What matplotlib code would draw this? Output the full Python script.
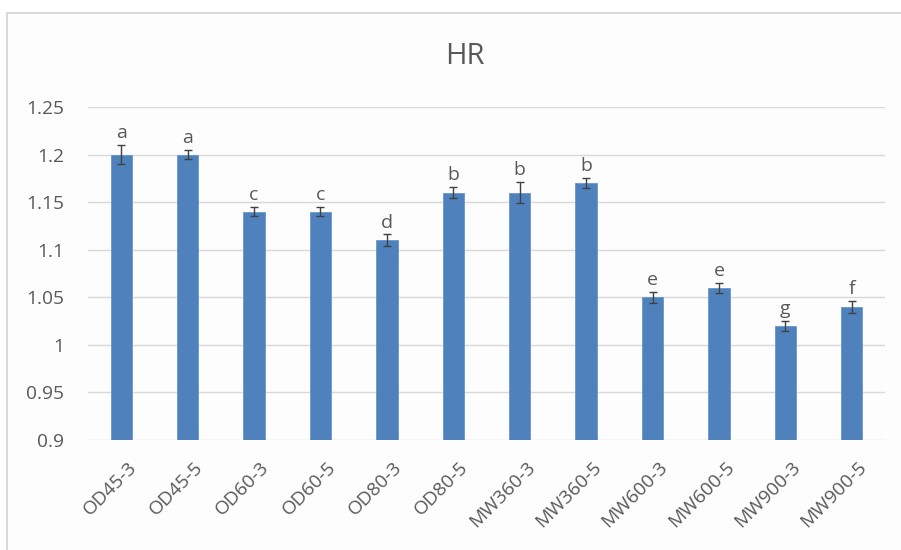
import numpy as np
import matplotlib
matplotlib.use("Agg")
import matplotlib.pyplot as plt
import matplotlib.transforms as mtransforms
from matplotlib.patches import Rectangle

## DATA ----------------
groups = ['OD45-3', 'OD45-5', 'OD60-3', 'OD60-5', 'OD80-3', 'OD80-5',
          'MW360-3', 'MW360-5', 'MW600-3', 'MW600-5', 'MW900-3', 'MW900-5']
hr_mean = [1.20, 1.20, 1.14, 1.14, 1.11, 1.16, 1.16, 1.17, 1.05, 1.06, 1.02, 1.04]
hr_err = [0.010, 0.005, 0.005, 0.005, 0.006, 0.006, 0.011, 0.005, 0.006, 0.005, 0.005, 0.006]
letters = ['a', 'a', 'c', 'c', 'd', 'b', 'b', 'b', 'e', 'e', 'g', 'f']

## STYLE ----------------
plt.rcParams['font.family'] = ['Open Sans', 'DejaVu Sans']
text_col = '#595959'

fig = plt.figure(figsize=(9.01, 5.5), dpi=100)
fig.patch.set_facecolor('white')

# chart frame (Excel-like border)
frame = Rectangle((7 / 901, -0.05), 1.0, 1 - 13 / 550 + 0.05,
                  transform=fig.transFigure, facecolor='#fdfdfd',
                  edgecolor='#d9d9d9', lw=1.5, zorder=-5)
fig.patches.append(frame)

ax = fig.add_axes([88 / 901, 110 / 550, (885 - 88) / 901, (443 - 110) / 550])
ax.set_zorder(2)
ax.set_facecolor('none')

x = np.arange(len(groups))
ax.bar(x, hr_mean, width=0.32, color='#4f81bd', edgecolor='#6a96cc', lw=0.6, zorder=2)
ax.errorbar(x, hr_mean, yerr=hr_err, fmt='none', ecolor='#404040',
            elinewidth=1.0, capsize=3, capthick=1.0, zorder=3)

for xi, m, e, lab in zip(x, hr_mean, hr_err, letters):
    ax.annotate(lab, (xi, m + e), xytext=(0, 5), textcoords='offset points',
                ha='center', va='baseline', fontsize=14, color=text_col)

ax.set_ylim(0.9, 1.25)
ax.set_xlim(-0.5, len(groups) - 0.5)
ax.set_yticks(np.arange(0.9, 1.2501, 0.05))
ax.set_yticklabels(['0.9', '0.95', '1', '1.05', '1.1', '1.15', '1.2', '1.25'])
ax.yaxis.grid(True, color='#d9d9d9', lw=1.0, zorder=0)
ax.set_axisbelow(True)
for s in ax.spines.values():
    s.set_visible(False)

ax.set_xticks(x)
ax.set_xticklabels(groups, rotation=45, ha='right', va='top', rotation_mode='anchor')
ax.tick_params(axis='both', length=0, labelsize=13.8, labelcolor=text_col)
ax.tick_params(axis='y', pad=17)
ax.tick_params(axis='x', pad=13)

# nudge rotated x labels right a few pixels
shift = mtransforms.ScaledTranslation(6 / 100, 0, fig.dpi_scale_trans)
for lbl in ax.get_xticklabels():
    lbl.set_transform(lbl.get_transform() + shift)

fig.text(465 / 901, 1 - 57 / 550, 'HR', ha='center', va='center', fontsize=21, color=text_col)

fig.savefig('out.png', dpi=100)
